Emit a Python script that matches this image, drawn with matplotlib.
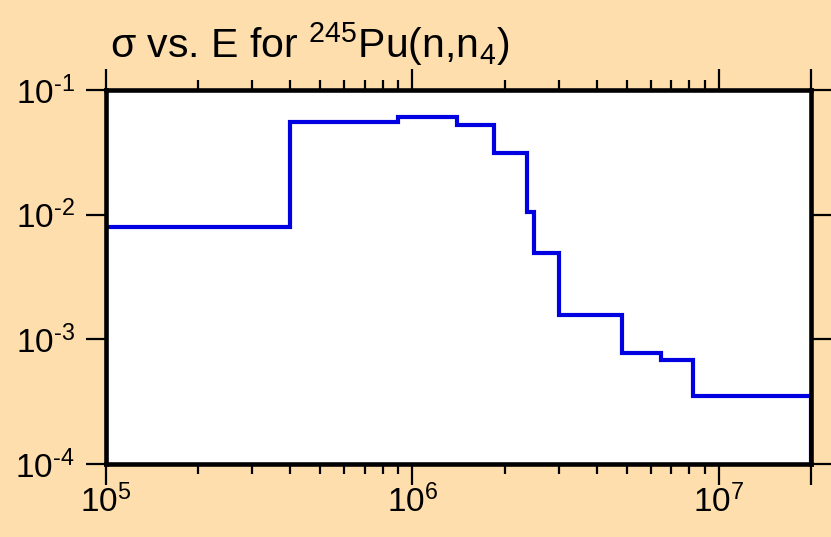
import matplotlib
matplotlib.use("Agg")
import matplotlib.pyplot as plt
import numpy as np
from matplotlib.ticker import FixedLocator, LogLocator, NullFormatter, NullLocator

plt.rcParams['font.family'] = ['Liberation Sans', 'DejaVu Sans']
plt.rcParams['mathtext.fontset'] = 'custom'
plt.rcParams['mathtext.rm'] = 'Liberation Sans'
plt.rcParams['mathtext.it'] = 'Liberation Sans'

# Energy bin edges (eV) and cross sections (b)
edges = [1e5, 4e5, 9e5, 1.4e6, 1.85e6, 2.36e6, 2.49e6, 3.0e6, 4.83e6, 6.47e6, 8.24e6, 2e7]
sigma = [7.9e-3, 5.54e-2, 6.1e-2, 5.27e-2, 3.1e-2, 1.05e-2, 4.9e-3, 1.56e-3, 7.8e-4, 6.87e-4, 3.53e-4]

x_major = [1e5, 1e6, 1e7, 2e7]
x_labels = [r'$10^{5}$', r'$10^{6}$', r'$10^{7}$', '']
y_major = [1e-4, 1e-3, 1e-2, 1e-1]
y_labels = [r'$10^{\text{-}4}$', r'$10^{\text{-}3}$', r'$10^{\text{-}2}$', r'$10^{\text{-}1}$']
title = r'σ vs. E for $^{245}$Pu(n,n$_4$)'

bg = '#FFDEAD'
fig = plt.figure(figsize=(8.31, 5.37), dpi=100, facecolor=bg)
ax = fig.add_axes([106/831, 1-464/537, (811-106)/831, (464-90)/537])
ax.set_facecolor('white')

floor = 1e-5
xs = [edges[0]]
ys = [floor]
for i, s in enumerate(sigma):
    xs += [edges[i], edges[i+1]]
    ys += [s, s]
xs += [edges[-1]]
ys += [floor]
ax.plot(xs, ys, color='#0000E0', lw=3.0, solid_joinstyle='miter', clip_on=True)

ax.set_xscale('log')
ax.set_yscale('log')
ax.set_xlim(edges[0], edges[-1])
ax.set_ylim(1e-4, 1e-1)

ax.xaxis.set_major_locator(FixedLocator(x_major))
ax.set_xticklabels(x_labels)
ax.xaxis.set_minor_locator(LogLocator(base=10, subs=np.arange(2, 10)))
ax.xaxis.set_minor_formatter(NullFormatter())
ax.yaxis.set_major_locator(FixedLocator(y_major))
ax.set_yticklabels(y_labels)
ax.yaxis.set_minor_locator(NullLocator())

ax.tick_params(axis='x', which='major', direction='out', length=15, width=1.6, labelsize=24,
               top=True, color='black', pad=0)
ax.tick_params(axis='x', which='minor', direction='out', length=7, width=1.6, top=True,
               color='black')
ax.tick_params(axis='y', which='major', direction='out', length=14.5, width=1.6, labelsize=24,
               right=True, color='black', pad=8)
for sp in ax.spines.values():
    sp.set_linewidth(3.3)
    sp.set_color('black')

fig.text(110/831, 1-58/537, title, fontsize=29.5, ha='left', va='baseline')

fig.savefig('out.png', dpi=100, facecolor=bg)
